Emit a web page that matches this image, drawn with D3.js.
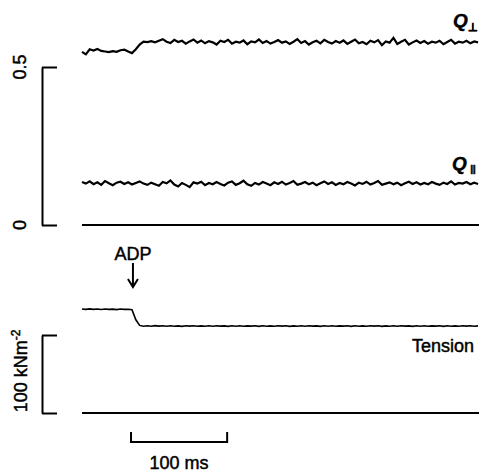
<!DOCTYPE html>
<html>
<head>
<meta charset="utf-8">
<script src="https://cdn.jsdelivr.net/npm/d3@7"></script>
<style>
  html, body { margin: 0; padding: 0; background: #fff; overflow: hidden; }
  svg { display: block; }
  text { font-family: "Liberation Sans", Arial, sans-serif; fill: #000; stroke: #000; stroke-width: 0.45px; }
</style>
</head>
<body>
<div id="chart"></div>
<script>
const w = 479;
const h = 472;

// sampling step of the traces (ms)
const stepMs = 4;
const adpTime = 53;        // ms, time of ADP release
const scaleBarStart = 51;  // ms
const scaleBarLength = 100; // ms

// order parameter traces (dimensionless)
const qPerp = [
  0.548,0.540,0.556,0.552,0.557,0.551,0.549,0.547,0.550,0.548,0.553,0.555,0.549,0.544,
  0.556,0.571,0.580,0.579,0.582,0.578,0.583,0.588,0.580,0.576,0.586,0.579,0.583,0.574,0.581,0.587,0.577,0.584,
  0.575,0.582,0.578,0.571,0.583,0.579,0.586,0.574,0.580,0.577,0.584,0.572,0.581,0.578,0.587,0.576,0.582,0.574,
  0.579,0.585,0.577,0.581,0.573,0.580,0.588,0.576,0.582,0.571,0.578,0.583,0.575,0.586,0.579,0.574,0.582,0.577,
  0.584,0.573,0.580,0.587,0.575,0.579,0.572,0.583,0.578,0.585,0.569,0.581,0.577,0.592,0.573,0.580,0.586,0.571,
  0.578,0.584,0.576,0.582,0.574,0.580,0.577,0.583,0.572,0.579,0.586,0.574,0.580,0.577,0.583,0.575,0.581,0.578
];

const qPar = [
  0.136,0.131,0.138,0.129,0.135,0.127,0.139,0.132,0.126,0.134,0.137,0.130,0.135,0.128,0.133,0.138,0.131,0.127,
  0.134,0.129,0.124,0.136,0.132,0.141,0.128,0.122,0.133,0.127,0.120,0.135,0.131,0.137,0.126,0.133,0.129,0.136,
  0.130,0.125,0.134,0.138,0.127,0.132,0.140,0.129,0.124,0.133,0.128,0.136,0.131,0.126,0.135,0.130,0.137,0.128,
  0.133,0.139,0.127,0.131,0.136,0.129,0.134,0.126,0.132,0.138,0.130,0.135,0.127,0.133,0.129,0.136,0.131,0.125,
  0.134,0.130,0.137,0.128,0.133,0.139,0.127,0.131,0.135,0.129,0.134,0.126,0.132,0.137,0.130,0.135,0.128,0.133,
  0.129,0.136,0.131,0.127,0.134,0.130,0.138,0.128,0.133,0.131,0.136,0.129,0.134,0.130
];

// tension (kN m^-2)
const tension = [
  133.4,132.8,133.5,132.9,133.3,132.7,133.4,132.9,133.2,132.6,133.3,132.8,133.1,132.4,
  119.5,112.3,111.2,111.9,111.3,112.0,111.4,111.8,111.2,111.9,111.3,111.7,111.1,111.8,111.4,111.9,111.2,111.7,
  111.3,111.8,111.2,111.9,111.4,111.7,111.1,111.8,111.3,111.9,111.2,111.7,111.4,111.8,111.1,111.9,111.3,111.7,
  111.2,111.8,111.4,111.9,111.1,111.7,111.3,111.8,111.2,111.9,111.4,111.7,111.1,111.8,111.3,111.9,111.2,111.7,
  111.4,111.8,111.1,111.9,111.3,111.7,111.2,111.8,111.4,111.9,111.1,111.7,111.3,111.8,111.2,111.9,111.4,111.7,
  111.1,111.8,111.3,111.9,111.2,111.7,111.4,111.8,111.1,111.9,111.3,111.7,111.2,111.8,111.4,111.9,111.2,111.7
];

const qTicks = [0, 0.5];
const qTickLabels = ["0", "0.5"];
const tensionTicks = [0, 100];

var svg = d3.select("#chart")
    .append("svg")
    .attr("width", w)
    .attr("height", h);

var x = d3.scaleLinear().domain([0, 413]).range([82, 479]);
var yQ = d3.scaleLinear().domain([0, 0.5]).range([225, 67]);
var yT = d3.scaleLinear().domain([0, 100]).range([413, 335]);

function trace(yScale) {
    return d3.line()
        .x(function(d, i) { return x(i * stepMs); })
        .y(function(d) { return yScale(d); })
        .curve(d3.curveLinear);
}

// scale brackets
svg.append("g")
    .attr("transform", "translate(42,0)")
    .call(d3.axisRight(yQ).tickValues(qTicks).tickSize(15).tickSizeOuter(0).tickFormat(""));
svg.append("g")
    .attr("transform", "translate(42,0)")
    .call(d3.axisRight(yT).tickValues(tensionTicks).tickSize(15).tickSizeOuter(0).tickFormat(""));
svg.selectAll(".domain, .tick line")
    .attr("stroke", "#000")
    .attr("stroke-width", 2);

qTicks.forEach(function(v, i) {
    svg.append("text")
        .attr("transform", "translate(26," + yQ(v) + ") rotate(-90)")
        .attr("text-anchor", "middle")
        .attr("font-size", 18)
        .text(qTickLabels[i]);
});

svg.append("text")
    .attr("transform", "translate(27," + yT(54) + ") rotate(-90)")
    .attr("text-anchor", "middle")
    .attr("font-size", 18)
    .html('100 kNm<tspan dy="-7" font-size="12">-2</tspan>');

// zero lines
svg.append("line")
    .attr("x1", x(0)).attr("x2", x(413))
    .attr("y1", yQ(0)).attr("y2", yQ(0))
    .attr("stroke", "#000").attr("stroke-width", 2);
svg.append("line")
    .attr("x1", x(0)).attr("x2", x(413))
    .attr("y1", yT(0)).attr("y2", yT(0))
    .attr("stroke", "#000").attr("stroke-width", 2);

// traces
svg.append("path")
    .datum(qPerp)
    .attr("d", trace(yQ))
    .attr("fill", "none").attr("stroke", "#000").attr("stroke-width", 2.2);
svg.append("path")
    .datum(qPar)
    .attr("d", trace(yQ))
    .attr("fill", "none").attr("stroke", "#000").attr("stroke-width", 2.2);
svg.append("path")
    .datum(tension)
    .attr("d", trace(yT))
    .attr("fill", "none").attr("stroke", "#000").attr("stroke-width", 1.6);

// trace labels
svg.append("text")
    .attr("x", 453).attr("y", 27)
    .attr("font-size", 19).attr("font-weight", "bold").attr("font-style", "italic")
    .text("Q");
svg.append("text")
    .attr("x", 468).attr("y", 31)
    .attr("font-family", "DejaVu Sans")
    .attr("font-size", 11).attr("font-weight", "bold")
    .text("\u22A5");
svg.append("text")
    .attr("x", 452).attr("y", 170)
    .attr("font-size", 19).attr("font-weight", "bold").attr("font-style", "italic")
    .text("Q");
svg.append("text")
    .attr("x", 470).attr("y", 174)
    .attr("font-family", "DejaVu Sans")
    .attr("font-size", 12).attr("font-weight", "bold")
    .text("\u2016");
svg.append("text")
    .attr("x", 412).attr("y", 352)
    .attr("font-size", 18)
    .text("Tension");

// ADP marker
svg.append("text")
    .attr("x", x(adpTime)).attr("y", 260)
    .attr("text-anchor", "middle")
    .attr("font-size", 18)
    .text("ADP");
svg.append("line")
    .attr("x1", x(adpTime)).attr("x2", x(adpTime))
    .attr("y1", 263).attr("y2", 285)
    .attr("stroke", "#000").attr("stroke-width", 2);
svg.append("path")
    .attr("d", "M" + (x(adpTime) - 5) + ",279L" + x(adpTime) + ",287L" + (x(adpTime) + 5) + ",279")
    .attr("fill", "none").attr("stroke", "#000").attr("stroke-width", 2);

// time scale bar
var x0 = x(scaleBarStart), x1 = x(scaleBarStart + scaleBarLength);
svg.append("path")
    .attr("d", "M" + x0 + ",432V442H" + x1 + "V432")
    .attr("fill", "none").attr("stroke", "#000").attr("stroke-width", 2);
svg.append("text")
    .attr("x", (x0 + x1) / 2).attr("y", 469)
    .attr("text-anchor", "middle")
    .attr("font-size", 18)
    .text("100 ms");
</script>
</body>
</html>
